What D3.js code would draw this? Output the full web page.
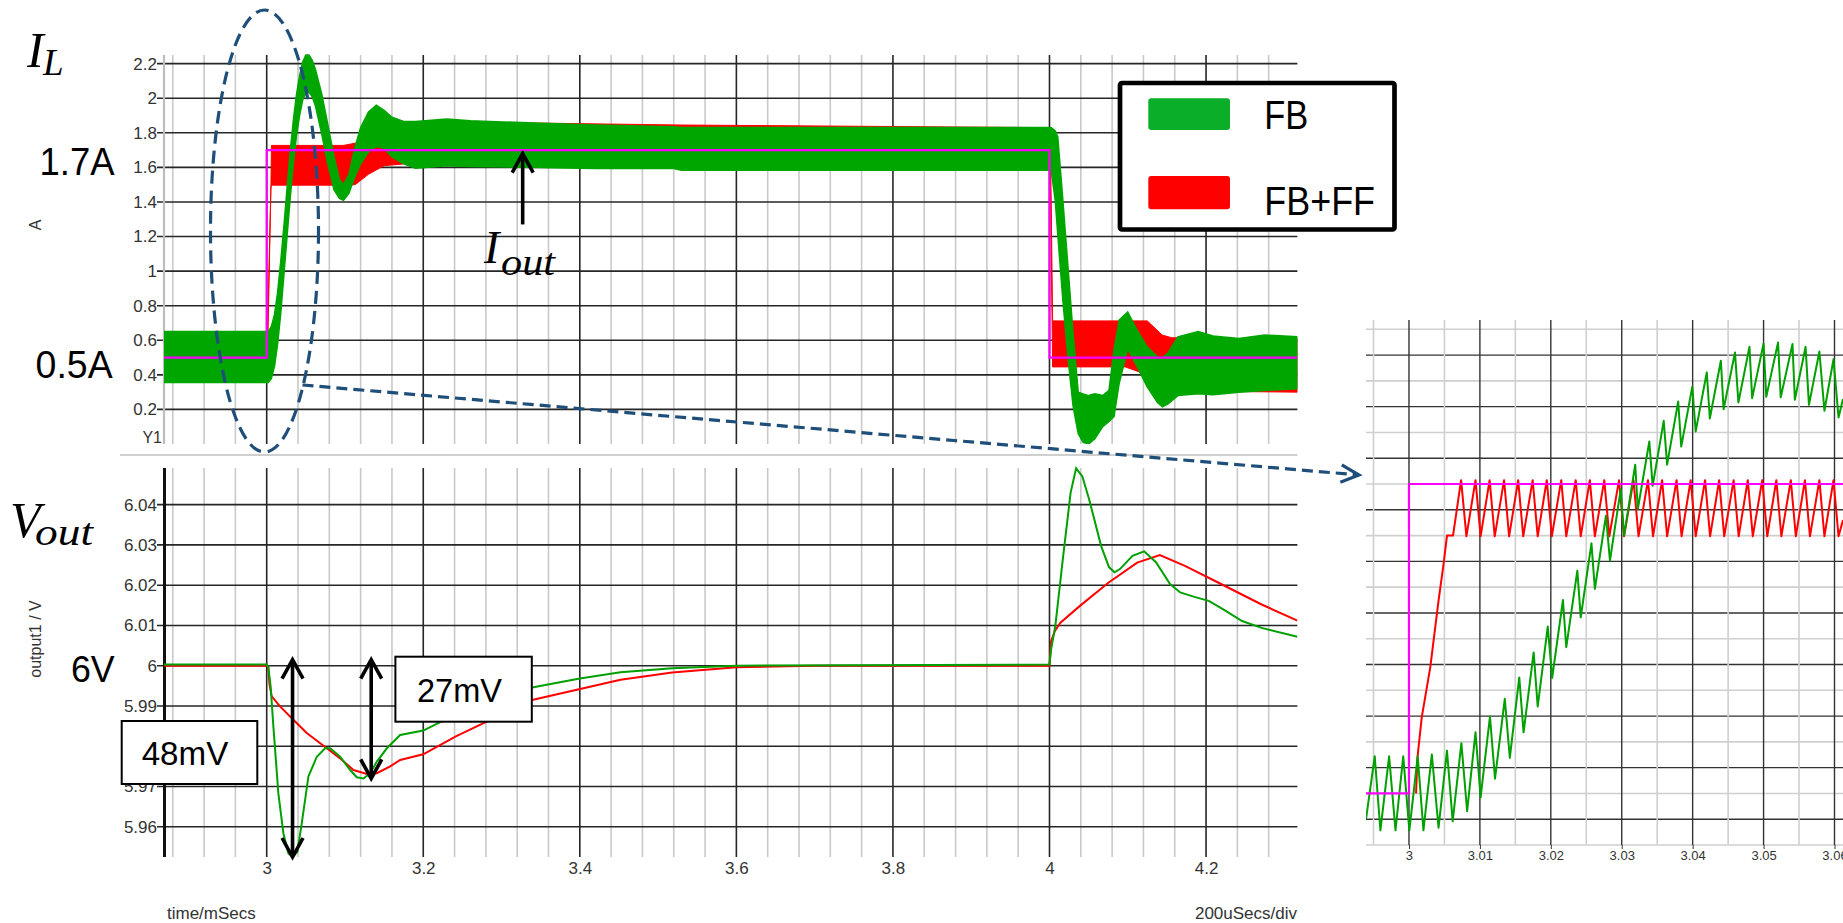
<!DOCTYPE html>
<html>
<head>
<meta charset="utf-8">
<script src="https://cdn.jsdelivr.net/npm/d3@7"></script>
<style>
  html, body { margin: 0; padding: 0; background: #ffffff; }
  svg { display: block; }
</style>
</head>
<body>
<svg id="chart" width="1843" height="923"></svg>
<script>
// ---------------- axis ticks ----------------
const timeTicks = [3, 3.2, 3.4, 3.6, 3.8, 4, 4.2];
const timeTickLabels = ["3", "3.2", "3.4", "3.6", "3.8", "4", "4.2"];
const currentTicks = [0.2, 0.4, 0.6, 0.8, 1, 1.2, 1.4, 1.6, 1.8, 2, 2.2];
const currentTickLabels = ["0.2", "0.4", "0.6", "0.8", "1", "1.2", "1.4", "1.6", "1.8", "2", "2.2"];
const voltTicks = [5.96, 5.97, 5.98, 5.99, 6, 6.01, 6.02, 6.03, 6.04];
const voltTickLabels = ["5.96", "5.97", "5.98", "5.99", "6", "6.01", "6.02", "6.03", "6.04"];
const zoomTicks = [3, 3.01, 3.02, 3.03, 3.04, 3.05, 3.06];
const zoomTickLabels = ["3", "3.01", "3.02", "3.03", "3.04", "3.05", "3.06"];

// ---------------- inductor current, ripple envelopes (ms, A) ----------------
// FB: feedback only
const fbBandT  = [2.8688, 3.002, 3.006, 3.010, 3.014, 3.018, 3.022, 3.026, 3.030, 3.034, 3.038, 3.042, 3.046, 3.050, 3.054, 3.058, 3.062, 3.070, 3.078, 3.086, 3.093, 3.098, 3.105, 3.113, 3.120, 3.130, 3.140, 3.150, 3.160, 3.175, 3.190, 3.230, 3.260, 3.350, 3.420, 3.520, 3.530, 4.000, 4.0021, 4.0073, 4.0106, 4.0171, 4.0236, 4.0301, 4.0367, 4.043, 4.050, 4.058, 4.068, 4.076, 4.0824, 4.089, 4.0999, 4.1117, 4.1248, 4.138, 4.1444, 4.151, 4.164, 4.190, 4.209, 4.242, 4.275, 4.3167];
const fbBandHi = [0.65, 0.65, 0.68, 0.75, 0.88, 1.06, 1.26, 1.48, 1.69, 1.87, 2.02, 2.13, 2.21, 2.25, 2.25, 2.22, 2.17, 2.03, 1.85, 1.66, 1.53, 1.50, 1.56, 1.72, 1.83, 1.92, 1.96, 1.93, 1.89, 1.865, 1.865, 1.88, 1.87, 1.855, 1.845, 1.835, 1.83, 1.83, 1.83, 1.81, 1.776, 1.41, 1.025, 0.64, 0.30, 0.29, 0.28, 0.29, 0.28, 0.31, 0.545, 0.717, 0.764, 0.66, 0.562, 0.504, 0.50, 0.524, 0.62, 0.65, 0.625, 0.61, 0.63, 0.62];
const fbBandLo = [0.355, 0.355, 0.38, 0.45, 0.58, 0.76, 0.98, 1.20, 1.42, 1.62, 1.78, 1.90, 1.99, 2.03, 2.035, 2.01, 1.96, 1.80, 1.62, 1.47, 1.42, 1.41, 1.45, 1.55, 1.62, 1.69, 1.72, 1.71, 1.66, 1.62, 1.595, 1.61, 1.605, 1.60, 1.593, 1.593, 1.583, 1.583, 1.583, 1.41, 1.21, 0.83, 0.50, 0.22, 0.06, 0.01, 0.0, 0.03, 0.10, 0.13, 0.158, 0.35, 0.55, 0.45, 0.33, 0.24, 0.215, 0.23, 0.28, 0.29, 0.285, 0.30, 0.31, 0.32];
// FB+FF: feedback plus feed-forward
const ffBandT  = [2.8688, 3.000, 3.001, 3.0054, 3.0061, 3.098, 3.113, 3.130, 3.150, 3.175, 3.250, 3.530, 4.000, 4.001, 4.004, 4.097, 4.125, 4.144, 4.156, 4.200, 4.3167];
const ffBandHi = [0.63, 0.63, 0.64, 1.50, 1.727, 1.727, 1.74, 1.79, 1.84, 1.865, 1.862, 1.845, 1.83, 1.83, 0.712, 0.712, 0.712, 0.63, 0.615, 0.61, 0.605];
const ffBandLo = [0.37, 0.37, 0.50, 1.48, 1.497, 1.497, 1.50, 1.56, 1.61, 1.62, 1.615, 1.60, 1.59, 1.59, 0.446, 0.446, 0.40, 0.35, 0.312, 0.305, 0.30];
// load current step
const iOutT = [2.8688, 3.0, 4.0, 4.3167];
const iOutV = [0.5, 1.7, 0.5, 0.5];

// ---------------- output voltage (ms, V) ----------------
const vFbT = [2.8688, 3.000, 3.002, 3.005, 3.0085, 3.0149, 3.0213, 3.0277, 3.0333, 3.0392, 3.0448, 3.0533, 3.064, 3.0746, 3.081, 3.0938, 3.1066, 3.1151, 3.1236, 3.1321, 3.1407, 3.1535, 3.1705, 3.200, 3.228, 3.260, 3.300, 3.339, 3.400, 3.452, 3.518, 3.600, 4.000, 4.002, 4.0074, 4.017, 4.027, 4.034, 4.042, 4.0507, 4.066, 4.076, 4.083, 4.090, 4.106, 4.121, 4.136, 4.154, 4.167, 4.185, 4.2035, 4.222, 4.246, 4.271, 4.3167];
const vFbV = [6.0003, 6.0003, 5.9997, 5.9949, 5.985, 5.9683, 5.9584, 5.9534, 5.9526, 5.9538, 5.9609, 5.9725, 5.9774, 5.9795, 5.9795, 5.9774, 5.9741, 5.9723, 5.972, 5.9733, 5.9762, 5.9795, 5.9828, 5.9839, 5.9866, 5.9895, 5.9922, 5.9946, 5.9968, 5.9984, 5.9994, 6.0, 6.0003, 6.004, 6.0098, 6.0264, 6.043, 6.049, 6.047, 6.0413, 6.0297, 6.0245, 6.0232, 6.024, 6.0273, 6.0284, 6.0257, 6.0203, 6.0182, 6.0171, 6.0161, 6.014, 6.0111, 6.0094, 6.0072];
const vFfT = [2.8688, 3.000, 3.002, 3.0035, 3.0064, 3.017, 3.034, 3.0511, 3.0768, 3.0938, 3.1108, 3.128, 3.1407, 3.1577, 3.1705, 3.200, 3.241, 3.281, 3.339, 3.452, 3.518, 3.600, 3.700, 4.000, 4.002, 4.0067, 4.014, 4.0385, 4.0752, 4.112, 4.141, 4.173, 4.216, 4.271, 4.3167];
const vFfV = [6.0, 6.0, 5.9997, 5.9955, 5.9924, 5.9899, 5.9866, 5.9833, 5.9795, 5.977, 5.9741, 5.9731, 5.9733, 5.975, 5.9766, 5.978, 5.9824, 5.9861, 5.9915, 5.9965, 5.9983, 5.9996, 6.0, 6.0, 6.006, 6.0086, 6.0107, 6.0148, 6.0206, 6.0256, 6.0275, 6.0248, 6.0206, 6.0152, 6.0112];

// ---------------- detail around the 0.5 A -> 1.7 A step (ms, A) ----------------
const zoomFbT = [2.99394, 2.99517, 2.99597, 2.9972, 2.9981, 2.99919, 3.00005, 3.00123, 3.00204, 3.00322, 3.00417, 3.00536, 3.00616, 3.00739, 3.0082, 3.00938, 3.0101, 3.01142, 3.01213, 3.01351, 3.01422, 3.01555, 3.01616, 3.01758, 3.01815, 3.01957, 3.02019, 3.02171, 3.02218, 3.02374, 3.02422, 3.02573, 3.02621, 3.02777, 3.02834, 3.02986, 3.03033, 3.0319, 3.03227, 3.03389, 3.03436, 3.03592, 3.0364, 3.03796, 3.03839, 3.03995, 3.04043, 3.04199, 3.04242, 3.04398, 3.04436, 3.04597, 3.04645, 3.04801, 3.04839, 3.05, 3.05038, 3.05204, 3.05242, 3.05408, 3.05441, 3.05592, 3.0564, 3.05787, 3.05858, 3.05986, 3.06057, 3.0612];
const zoomFbV = [0.40, 0.644, 0.357, 0.644, 0.357, 0.644, 0.357, 0.644, 0.357, 0.651, 0.367, 0.666, 0.392, 0.695, 0.431, 0.737, 0.485, 0.798, 0.557, 0.867, 0.638, 0.95, 0.737, 1.047, 0.837, 1.147, 0.948, 1.25, 1.067, 1.364, 1.183, 1.47, 1.293, 1.577, 1.403, 1.68, 1.50, 1.775, 1.603, 1.865, 1.693, 1.945, 1.775, 2.02, 1.845, 2.077, 1.904, 2.133, 1.954, 2.178, 1.99, 2.21, 2.016, 2.232, 2.033, 2.245, 2.038, 2.249, 2.036, 2.243, 2.027, 2.232, 2.007, 2.214, 1.984, 2.184, 1.958, 2.03];
const zoomFfT = [3.0010, 3.0012, 3.0018, 3.0030, 3.00417, 3.00488, 3.00536, 3.00621, 3.00735, 3.0081, 3.00938, 3.0101, 3.01137, 3.01209, 3.01341, 3.01412, 3.0154, 3.01611, 3.01744, 3.01815, 3.01943, 3.02014, 3.02147, 3.02218, 3.02351, 3.02422, 3.0255, 3.02621, 3.02754, 3.02825, 3.02962, 3.03033, 3.03166, 3.03237, 3.0337, 3.03441, 3.03569, 3.0364, 3.03773, 3.03844, 3.03972, 3.04043, 3.04175, 3.04246, 3.04374, 3.04445, 3.04578, 3.04649, 3.04777, 3.04848, 3.04981, 3.05052, 3.0518, 3.05251, 3.05384, 3.05455, 3.05583, 3.05654, 3.05787, 3.05858, 3.05986, 3.06057, 3.0612];
const zoomFfV = [0.50, 0.64, 0.795, 0.989, 1.248, 1.39, 1.50, 1.50, 1.715, 1.497, 1.715, 1.497, 1.715, 1.497, 1.715, 1.497, 1.715, 1.497, 1.715, 1.497, 1.715, 1.497, 1.715, 1.497, 1.715, 1.497, 1.715, 1.497, 1.715, 1.497, 1.715, 1.497, 1.715, 1.497, 1.715, 1.497, 1.715, 1.497, 1.715, 1.497, 1.715, 1.497, 1.715, 1.497, 1.715, 1.497, 1.715, 1.497, 1.715, 1.497, 1.715, 1.497, 1.715, 1.497, 1.715, 1.497, 1.715, 1.497, 1.715, 1.497, 1.715, 1.497, 1.56];
const zoomIoutT = [2.99394, 3.0, 3.0612];
const zoomIoutV = [0.5, 1.7, 1.7];

// ---------------- setup ----------------
const svg = d3.select("#chart");
const SANS = "'Liberation Sans', Arial, sans-serif";
const SERIF = "'Liberation Serif', 'Times New Roman', serif";
const GREEN = "#00a600", RED = "#ff0000", MAGENTA = "#ff00ff";
const MAJOR = "#262626", MINOR = "#c9c9c9";

const xMain = d3.scaleLinear().domain([2.8688, 4.3167]).range([164, 1297.4]);
const yCur = d3.scaleLinear().domain([0, 2.25]).range([444, 55]);
const yVolt = d3.scaleLinear().domain([5.9525, 6.0491]).range([857, 468]);
const xZoom = d3.scaleLinear().domain([2.99394, 3.0612]).range([1366, 1843]);
const yZoom = d3.scaleLinear().domain([0.3, 2.3]).range([845, 329.3]);

const zip = (t, a, b) => t.map((d, i) => ({ t: d, v: a[i], lo: b ? b[i] : null }));

const defs = svg.append("defs");
function clip(id, x, y, w, h) {
  defs.append("clipPath").attr("id", id).append("rect")
    .attr("x", x).attr("y", y).attr("width", w).attr("height", h);
}
clip("clipTop", 164, 48, 1133.4, 396);
clip("clipBot", 164, 464, 1133.4, 395);
clip("clipZoom", 1366, 320, 477, 525);

function styleAxis(g, size) {
  g.select(".domain").remove();
  g.selectAll("text")
    .attr("font-family", SANS).attr("font-size", size).attr("fill", "#333");
}

// minor time gridlines every 40 us
const minorTimes = d3.range(0, 37)
  .map(i => +(2.88 + i * 0.04).toFixed(2))
  .filter(t => t < 4.3167 && !timeTicks.some(m => Math.abs(m - t) < 1e-6));

// ---------------- grids of the two main panels ----------------
function timeGrid(y0, y1) {
  const g = svg.append("g");
  g.selectAll(".mn").data(minorTimes).join("line")
    .attr("x1", d => xMain(d)).attr("x2", d => xMain(d))
    .attr("y1", y0).attr("y2", y1)
    .attr("stroke", MINOR).attr("stroke-width", 1.6);
  g.selectAll(".mj").data(timeTicks).join("line")
    .attr("x1", d => xMain(d)).attr("x2", d => xMain(d))
    .attr("y1", y0).attr("y2", y1)
    .attr("stroke", MAJOR).attr("stroke-width", 1.6);
  return g;
}
timeGrid(55, 444);
timeGrid(468, 857);

svg.append("g").selectAll("line").data(currentTicks).join("line")
  .attr("x1", 157).attr("x2", 1297.4)
  .attr("y1", d => yCur(d)).attr("y2", d => yCur(d))
  .attr("stroke", MAJOR).attr("stroke-width", 1.6);
svg.append("g").selectAll("line").data(voltTicks).join("line")
  .attr("x1", 157).attr("x2", 1297.4)
  .attr("y1", d => yVolt(d)).attr("y2", d => yVolt(d))
  .attr("stroke", MAJOR).attr("stroke-width", 1.6);

// left frame lines
svg.append("line").attr("x1", 164).attr("x2", 164).attr("y1", 55).attr("y2", 444)
  .attr("stroke", "#bdbdbd").attr("stroke-width", 2.2);
svg.append("line").attr("x1", 164.5).attr("x2", 164.5).attr("y1", 468).attr("y2", 857)
  .attr("stroke", "#111").attr("stroke-width", 3);
// separator between panels
svg.append("line").attr("x1", 120).attr("x2", 1297.4).attr("y1", 455).attr("y2", 455)
  .attr("stroke", "#cfcfcf").attr("stroke-width", 2);

// axes
svg.append("g").attr("transform", "translate(164,0)")
  .call(d3.axisLeft(yCur).tickValues(currentTicks)
    .tickFormat((d, i) => currentTickLabels[i]).tickSize(0).tickPadding(7))
  .call(g => styleAxis(g, 17));
svg.append("g").attr("transform", "translate(164,0)")
  .call(d3.axisLeft(yVolt).tickValues(voltTicks)
    .tickFormat((d, i) => voltTickLabels[i]).tickSize(0).tickPadding(7))
  .call(g => styleAxis(g, 17));
svg.append("g").attr("transform", "translate(0,857)")
  .call(d3.axisBottom(xMain).tickValues(timeTicks)
    .tickFormat((d, i) => timeTickLabels[i]).tickSize(0).tickPadding(5))
  .call(g => styleAxis(g, 17));

svg.append("text").attr("x", 162).attr("y", 442.5).attr("text-anchor", "end")
  .attr("font-family", SANS).attr("font-size", 16).attr("fill", "#333").text("Y1");
svg.append("text").attr("transform", "translate(40.5,225) rotate(-90)")
  .attr("text-anchor", "middle").attr("font-family", SANS).attr("font-size", 16)
  .attr("fill", "#333").text("A");
svg.append("text").attr("transform", "translate(40.5,639) rotate(-90)")
  .attr("text-anchor", "middle").attr("font-family", SANS).attr("font-size", 16)
  .attr("fill", "#333").text("output1 / V");
svg.append("text").attr("x", 167).attr("y", 919)
  .attr("font-family", SANS).attr("font-size", 17).attr("fill", "#333").text("time/mSecs");
svg.append("text").attr("x", 1297).attr("y", 919).attr("text-anchor", "end")
  .attr("font-family", SANS).attr("font-size", 17).attr("fill", "#333").text("200uSecs/div");

// ---------------- inductor current traces ----------------
const band = d3.area().x(d => xMain(d.t)).y0(d => yCur(d.lo)).y1(d => yCur(d.v));
const topPanel = svg.append("g").attr("clip-path", "url(#clipTop)");
topPanel.append("path").datum(zip(ffBandT, ffBandHi, ffBandLo)).attr("d", band)
  .attr("fill", RED).attr("stroke", RED).attr("stroke-width", 1);
topPanel.append("path").datum(zip(fbBandT, fbBandHi, fbBandLo)).attr("d", band)
  .attr("fill", GREEN).attr("stroke", GREEN).attr("stroke-width", 1.5);
topPanel.append("path").datum(zip(iOutT, iOutV))
  .attr("d", d3.line().x(d => xMain(d.t)).y(d => yCur(d.v)).curve(d3.curveStepAfter))
  .attr("fill", "none").attr("stroke", MAGENTA).attr("stroke-width", 2.2);

// ---------------- output voltage traces ----------------
const vLine = d3.line().x(d => xMain(d.t)).y(d => yVolt(d.v));
const botPanel = svg.append("g").attr("clip-path", "url(#clipBot)");
botPanel.append("path").datum(zip(vFfT, vFfV)).attr("d", vLine)
  .attr("fill", "none").attr("stroke", RED).attr("stroke-width", 2);
botPanel.append("path").datum(zip(vFbT, vFbV)).attr("d", vLine)
  .attr("fill", "none").attr("stroke", "#00a000").attr("stroke-width", 2);

// ---------------- detail panel ----------------
const zoomLevels = d3.range(0, 21).map(i => +(0.3 + i * 0.1).toFixed(1));
const zoomMinorT = d3.range(0, 13).map(i => +(2.995 + i * 0.005).toFixed(3))
  .filter(t => !zoomTicks.some(m => Math.abs(m - t) < 1e-6));
const zg = svg.append("g");
zg.selectAll(".zh").data(zoomLevels).join("line")
  .attr("x1", 1366).attr("x2", 1843)
  .attr("y1", d => yZoom(d)).attr("y2", d => yZoom(d))
  .attr("stroke", d => Math.round(d * 10) % 2 === 0 ? "#333" : "#cfcfcf")
  .attr("stroke-width", d => Math.round(d * 10) % 2 === 0 ? 1.4 : 1.6);
zg.selectAll(".zvm").data(zoomMinorT).join("line")
  .attr("x1", d => xZoom(d)).attr("x2", d => xZoom(d))
  .attr("y1", 320).attr("y2", 845)
  .attr("stroke", "#cfcfcf").attr("stroke-width", 1.6);
zg.selectAll(".zvM").data(zoomTicks).join("line")
  .attr("x1", d => xZoom(d)).attr("x2", d => xZoom(d))
  .attr("y1", 320).attr("y2", 845)
  .attr("stroke", "#333").attr("stroke-width", 1.4);
svg.append("g").attr("transform", "translate(0,845)")
  .call(d3.axisBottom(xZoom).tickValues(zoomTicks)
    .tickFormat((d, i) => zoomTickLabels[i]).tickSize(4).tickPadding(2))
  .call(g => { styleAxis(g, 13); g.selectAll("line").attr("stroke", "#333"); });

const zLine = d3.line().x(d => xZoom(d.t)).y(d => yZoom(d.v));
const zc = svg.append("g").attr("clip-path", "url(#clipZoom)");
zc.append("path").datum(zip(zoomFfT, zoomFfV)).attr("d", zLine)
  .attr("fill", "none").attr("stroke", RED).attr("stroke-width", 2).attr("stroke-linejoin", "round");
zc.append("path").datum(zip(zoomFbT, zoomFbV)).attr("d", zLine)
  .attr("fill", "none").attr("stroke", "#00a000").attr("stroke-width", 2).attr("stroke-linejoin", "round");
zc.append("path").datum(zip(zoomIoutT, zoomIoutV))
  .attr("d", d3.line().x(d => xZoom(d.t)).y(d => yZoom(d.v)).curve(d3.curveStepAfter))
  .attr("fill", "none").attr("stroke", MAGENTA).attr("stroke-width", 2.2);

// ---------------- annotations ----------------
const BLUE = "#1f4e79";
svg.append("ellipse").attr("cx", 264.5).attr("cy", 231).attr("rx", 54).attr("ry", 221)
  .attr("fill", "none").attr("stroke", BLUE).attr("stroke-width", 3.2)
  .attr("stroke-dasharray", "13,7");
const ax0 = 302.5, ay0 = 385, ax1 = 1359, ay1 = 475;
svg.append("line").attr("x1", ax0).attr("y1", ay0).attr("x2", ax1 - 2).attr("y2", ay1 - 0.2)
  .attr("stroke", BLUE).attr("stroke-width", 3.2).attr("stroke-dasharray", "11,6");
{
  const ang = Math.atan2(ay1 - ay0, ax1 - ax0), L = 20, s = 0.45;
  svg.append("path")
    .attr("d", `M${ax1 - L * Math.cos(ang - s)},${ay1 - L * Math.sin(ang - s)}L${ax1},${ay1}L${ax1 - L * Math.cos(ang + s)},${ay1 - L * Math.sin(ang + s)}`)
    .attr("fill", "none").attr("stroke", BLUE).attr("stroke-width", 3.2);
}

// black arrows (single and double headed)
function arrow(x, yTip, yEnd, both) {
  const hw = 10.5, hh = 19;
  const g = svg.append("g").attr("fill", "none").attr("stroke", "#000")
    .attr("stroke-width", 3.6).attr("stroke-linecap", "butt");
  g.append("line").attr("x1", x).attr("x2", x).attr("y1", yTip + 1).attr("y2", yEnd - (both ? 1 : 0));
  g.append("path").attr("d", `M${x - hw},${yTip + hh}L${x},${yTip}L${x + hw},${yTip + hh}`);
  if (both) g.append("path").attr("d", `M${x - hw},${yEnd - hh}L${x},${yEnd}L${x + hw},${yEnd - hh}`);
}
arrow(xMain(3.327), yCur(1.68), yCur(1.27), false);
arrow(xMain(3.033), yVolt(6.0) - 6, yVolt(5.9525), true);
arrow(xMain(3.1335), yVolt(6.0) - 6, yVolt(5.972), true);

// value boxes
function box(x, y, w, h, label, tx, ty, size, tl) {
  svg.append("rect").attr("x", x).attr("y", y).attr("width", w).attr("height", h)
    .attr("fill", "#fff").attr("stroke", "#000").attr("stroke-width", 2);
  svg.append("text").attr("x", tx).attr("y", ty).attr("font-family", SANS)
    .attr("font-size", size).attr("fill", "#000")
    .attr("textLength", tl).attr("lengthAdjust", "spacingAndGlyphs").text(label);
}
box(121.7, 721, 135.6, 63, "48mV", 141.7, 765, 32.5, 86.6);
box(395.4, 656.7, 136.4, 65, "27mV", 417, 701.7, 33, 85);

// large labels
function big(txt, x, y, size, tl) {
  svg.append("text").attr("x", x).attr("y", y).attr("font-family", SANS)
    .attr("font-size", size).attr("fill", "#000")
    .attr("textLength", tl).attr("lengthAdjust", "spacingAndGlyphs").text(txt);
}
big("1.7A", 39.5, 175, 39, 75);
big("0.5A", 35.6, 378, 38, 77);
big("6V", 71, 681.7, 37, 43.7);

function mathLabel(main, sub, x, y, mainSize, sx, sy, subSize, subLen) {
  svg.append("text").attr("x", x).attr("y", y).attr("font-family", SERIF)
    .attr("font-style", "italic").attr("font-size", mainSize).attr("fill", "#000").text(main);
  const t = svg.append("text").attr("x", sx).attr("y", sy).attr("font-family", SERIF)
    .attr("font-style", "italic").attr("font-size", subSize).attr("fill", "#000").text(sub);
  if (subLen) t.attr("textLength", subLen).attr("lengthAdjust", "spacingAndGlyphs");
}
mathLabel("I", "L", 27, 67, 50, 43, 75, 37, null);
mathLabel("V", "out", 10, 537, 50, 35, 545, 38, 58);
mathLabel("I", "out", 484, 263.3, 46, 501, 275, 38, 54);

// legend
svg.append("rect").attr("x", 1120).attr("y", 83).attr("width", 274.5).attr("height", 146.5)
  .attr("rx", 2).attr("fill", "#fff").attr("stroke", "#000").attr("stroke-width", 4.7);
svg.append("rect").attr("x", 1148.3).attr("y", 98.3).attr("width", 81.7).attr("height", 31.7)
  .attr("rx", 3).attr("fill", "#0bae28");
svg.append("rect").attr("x", 1148.3).attr("y", 176).attr("width", 81.7).attr("height", 33.3)
  .attr("rx", 3).attr("fill", RED);
big("FB", 1264.3, 129.3, 41, 44);
big("FB+FF", 1264.3, 215, 41, 110.7);
</script>
</body>
</html>
